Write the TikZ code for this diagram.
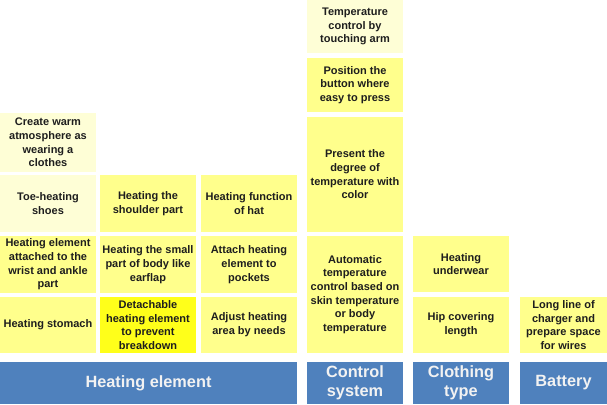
\documentclass[tikz,border=0pt]{standalone}
\usepackage{fontspec}
\setmainfont{Liberation Sans}
\definecolor{yel}{HTML}{FFFF8C}
\definecolor{pale}{HTML}{FEFED6}
\definecolor{bright}{HTML}{FFFF1A}
\definecolor{barblue}{HTML}{4F81BD}
\definecolor{ink}{HTML}{1E1E1E}
\tikzset{
  cell/.style={fill=yel, draw=none, align=center, inner sep=0pt, text=ink,
    font=\fontsize{11}{13.7}\selectfont\bfseries, minimum width=96pt},
  palecell/.style={cell, fill=pale},
  brightcell/.style={cell, fill=bright},
  bar/.style={fill=barblue, draw=none, align=center, inner sep=0pt, text=white!95!black,
    font=\fontsize{16.3}{19}\selectfont\bfseries, minimum height=42pt}
}
\begin{document}
\begin{tikzpicture}[x=1pt,y=-1pt]
\useasboundingbox (0,0) rectangle (607,404);
% Heating element column 1
\node[palecell, minimum height=59pt] (c1r1) at (48,142.5) {Create warm\\atmosphere as\\wearing a\\clothes};
\node[palecell, minimum height=57pt] (c1r2) at (48,203.5) {Toe-heating\\shoes};
\node[cell, minimum height=57pt] (c1r3) at (48,264.5) {Heating element\\attached to the\\wrist and ankle\\part};
\node[cell, minimum height=56pt] (c1r4) at (48,325) {Heating stomach};
% column 2
\node[cell, minimum height=57pt] (c2r2) at (148,203.5) {Heating the\\shoulder part};
\node[cell, minimum height=57pt] (c2r3) at (148,264.5) {Heating the small\\part of body like\\earflap};
\node[brightcell, minimum height=56pt] (c2r4) at (148,325) {Detachable\\heating element\\to prevent\\breakdown};
% column 3
\node[cell, minimum height=57pt] (c3r2) at (249,203.5) {Heating function\\of hat};
\node[cell, minimum height=57pt] (c3r3) at (249,264.5) {Attach heating\\element to\\pockets};
\node[cell, minimum height=56pt] (c3r4) at (249,325) {Adjust heating\\area by needs};
% control column
\node[palecell, minimum height=53pt] (c4r1) at (355,26.5) {Temperature\\control by\\touching arm};
\node[cell, minimum height=54pt] (c4r2) at (355,85) {Position the\\button where\\easy to press};
\node[cell, minimum height=115pt] (c4r3) at (355,174.5) {Present the\\degree of\\temperature with\\color};
\node[cell, minimum height=117pt] (c4r4) at (355,294.5) {Automatic\\temperature\\control based on\\skin temperature\\or body\\temperature};
% clothing column
\node[cell, minimum height=56pt] (c5r1) at (461,264) {Heating\\underwear};
\node[cell, minimum height=56pt] (c5r2) at (461,325) {Hip covering\\length};
% battery column
\node[cell, minimum width=87pt, minimum height=56pt] (c6r1) at (563.5,325) {Long line of\\charger and\\prepare space\\for wires};
% bars
\node[bar, minimum width=297pt] (b1) at (148.5,383) {Heating element};
\node[bar, minimum width=96pt] (b2) at (355,383) {Control\\system};
\node[bar, minimum width=96pt] (b3) at (461,383) {Clothing\\type};
\node[bar, minimum width=87pt] (b4) at (563.5,383) {Battery};
\end{tikzpicture}
\end{document}
